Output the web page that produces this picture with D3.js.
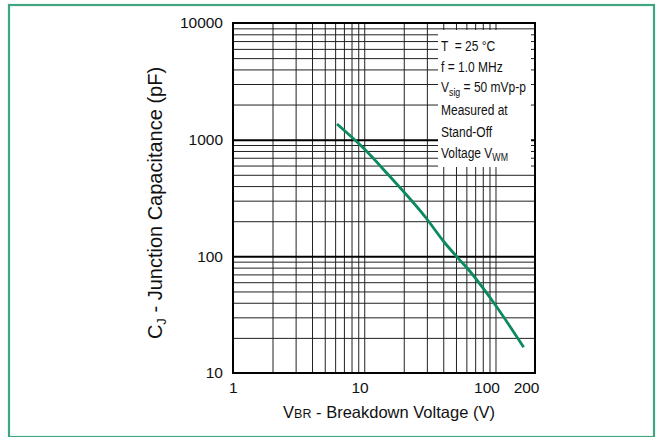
<!DOCTYPE html>
<html>
<head>
<meta charset="utf-8">
<script src="https://cdn.jsdelivr.net/npm/d3@7"></script>
<style>
  body { margin: 0; background: #fff; }
  text { font-family: "Liberation Sans", Arial, sans-serif; fill: #111; }
</style>
</head>
<body>
<div id="chart"></div>
<script>
// valores
const xTicks = [1, 10, 100, 200];
const yTicks = [10, 100, 1000, 10000];
const xGrid = [2, 3, 4, 5, 6, 7, 8, 9, 10, 20, 30, 40, 50, 60, 70, 80, 90, 100];
const yGrid = [20, 30, 40, 50, 60, 70, 80, 90, 200, 300, 400, 500, 600, 700, 800, 900,
               2000, 3000, 4000, 5000, 6000, 7000, 8000, 9000];
const yDecades = [100, 1000];

// curva Cj frente a Vbr
const voltage = [6.2, 9.9, 14.9, 29.7, 40.3, 52.5, 61, 97, 164];
const capacitance = [1364, 843, 515, 212, 134, 95, 79, 40, 16.6];

// texto de la caja de condiciones (segmentos: [texto, sub?])
const notes = [
  [["T  = 25 °C"]],
  [["f = 1.0 MHz"]],
  [["V"], ["sig", true], [" = 50 mVp-p"]],
  [["Measured at"]],
  [["Stand-Off"]],
  [["Voltage V"], ["WM", true]]
];

const width = 657;
const height = 437;
const mLeft = 233, mRight = 535, mTop = 23, mBottom = 373;

const svg = d3.select('#chart')
  .append('svg')
  .attr('width', width)
  .attr('height', height);

// marco verde exterior
svg.append('rect')
  .attr('x', 9).attr('y', 5)
  .attr('width', 645).attr('height', 432)
  .attr('fill', 'none')
  .attr('stroke', '#3fa67e')
  .attr('stroke-width', 2.2);

const x = d3.scaleLog().domain([1, 200]).range([mLeft, mRight]);
const y = d3.scaleLog().domain([10, 10000]).range([mBottom, mTop]);

// rejilla
const gridX = d3.axisBottom(x).tickValues(xGrid).tickSize(-(mBottom - mTop)).tickFormat('');
svg.append('g')
  .attr('transform', `translate(0,${mBottom})`)
  .call(gridX)
  .call(g => g.select('.domain').remove())
  .call(g => g.selectAll('line').attr('stroke', '#222').attr('stroke-width', 1));

const gridY = d3.axisLeft(y).tickValues(yGrid).tickSize(-(mRight - mLeft)).tickFormat('');
svg.append('g')
  .attr('transform', `translate(${mLeft},0)`)
  .call(gridY)
  .call(g => g.select('.domain').remove())
  .call(g => g.selectAll('line').attr('stroke', '#222').attr('stroke-width', 1));

const gridD = d3.axisLeft(y).tickValues(yDecades).tickSize(-(mRight - mLeft)).tickFormat('');
svg.append('g')
  .attr('transform', `translate(${mLeft},0)`)
  .call(gridD)
  .call(g => g.select('.domain').remove())
  .call(g => g.selectAll('line').attr('stroke', '#000').attr('stroke-width', 2));

// caja blanca de las condiciones
const boxX = 438, boxY = 30;
svg.append('rect')
  .attr('x', boxX).attr('y', boxY)
  .attr('width', 93).attr('height', 137)
  .attr('fill', '#fff');

// borde del area
svg.append('rect')
  .attr('x', mLeft).attr('y', mTop)
  .attr('width', mRight - mLeft).attr('height', mBottom - mTop)
  .attr('fill', 'none')
  .attr('stroke', '#000')
  .attr('stroke-width', 2);

// ejes con etiquetas
const axisX = d3.axisBottom(x).tickValues(xTicks).tickSize(0).tickPadding(9).tickFormat(d3.format('d'));
svg.append('g')
  .attr('transform', `translate(0,${mBottom})`)
  .call(axisX)
  .call(g => g.select('.domain').remove())
  .call(g => g.selectAll('text')
    .attr('font-size', 15.5)
    .attr('font-family', '"Liberation Sans", Arial, sans-serif')
    .attr('fill', '#111')
    .attr('text-anchor', 'end')
    .attr('dx', 4));

const axisY = d3.axisLeft(y).tickValues(yTicks).tickSize(0).tickPadding(10).tickFormat(d3.format('d'));
svg.append('g')
  .attr('transform', `translate(${mLeft},0)`)
  .call(axisY)
  .call(g => g.select('.domain').remove())
  .call(g => g.selectAll('text')
    .attr('font-size', 15.5)
    .attr('font-family', '"Liberation Sans", Arial, sans-serif')
    .attr('fill', '#111'));

// curva
const points = voltage.map((v, i) => [v, capacitance[i]]);
const line = d3.line()
  .x(d => x(d[0]))
  .y(d => y(d[1]))
  .curve(d3.curveMonotoneX);

svg.append('path')
  .attr('d', line(points))
  .attr('fill', 'none')
  .attr('stroke', '#0b8a5e')
  .attr('stroke-width', 2.8);

// texto de condiciones (fuente estrecha)
const notesG = svg.append('g')
  .attr('transform', `translate(${boxX + 3},0) scale(0.8,1)`);
const baselines = [51, 72, 92.5, 115.5, 137.5, 158];
notes.forEach((row, i) => {
  const t = notesG.append('text')
    .attr('x', 0)
    .attr('y', baselines[i])
    .attr('font-size', 15)
    .style('white-space', 'pre');
  row.forEach(seg => {
    const ts = t.append('tspan').text(seg[0]);
    if (seg[1]) ts.attr('font-size', 11).attr('baseline-shift', '-3');
    else ts.attr('font-size', 15);
  });
});

// titulo eje x
const tx = svg.append('text')
  .attr('x', 389)
  .attr('y', 418)
  .attr('text-anchor', 'middle')
  .attr('font-size', 16.5);
tx.append('tspan').text('V');
tx.append('tspan').text('BR').attr('font-size', 12.5);
tx.append('tspan').text(' - Breakdown Voltage (V)');

// titulo eje y
const ty = svg.append('text')
  .attr('transform', 'translate(162,203) rotate(-90)')
  .attr('text-anchor', 'middle')
  .attr('font-size', 20);
ty.append('tspan').text('C');
ty.append('tspan').text('J').attr('font-size', 13).attr('baseline-shift', '-4');
ty.append('tspan').text(' - Junction Capacitance (pF)');
</script>
</body>
</html>
